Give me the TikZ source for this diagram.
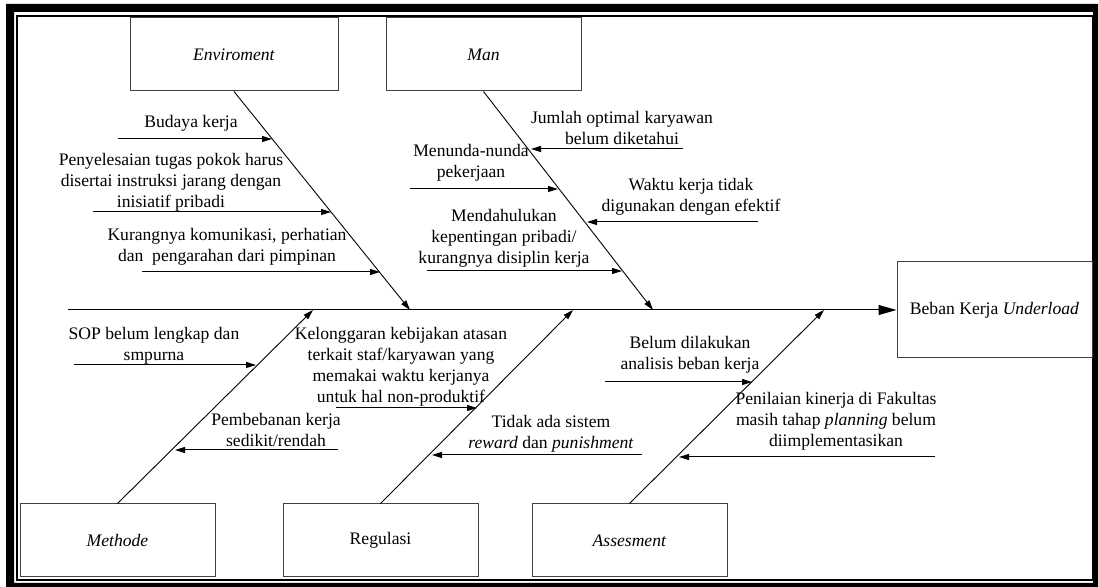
\documentclass[tikz,border=0pt]{standalone}
\usepackage{fontspec}
\setmainfont{Liberation Serif}
\usetikzlibrary{arrows.meta,positioning}
\tikzset{
  >={Triangle[length=5pt,width=3pt]},
  every node/.style={font=\fontsize{8.8}{10.5}\selectfont,text=black},
  catbox/.style={draw=black!75,line width=0.5pt,minimum width=97.5pt,minimum height=36.5pt,inner sep=0pt},
  effectbox/.style={catbox,minimum height=48pt},
  cause/.style={align=center,inner sep=0pt},
  bone/.style={->,line width=0.45pt},
  spine/.style={-{Triangle[length=9pt,width=5pt]},line width=0.5pt},
  causearr/.style={->,line width=0.5pt}
}
\begin{document}
\begin{tikzpicture}[x=0.5pt,y=-0.5pt]
  \useasboundingbox (0,0) rectangle (1099,587);
  % page frame
  \fill[black,even odd rule] (6,4) rectangle (1098,587) (14,12) rectangle (1093,583);
  \draw[line width=0.8pt] (17,16) rectangle (1093,580);

  % categories and effect
  \node[catbox,minimum width=104pt] (env) at (234,54.5) {\textit{Enviroment}};
  \node[catbox] (man) at (483.5,54.5) {\textit{Man}};
  \node[catbox] (methode) at (117.5,540.5) {\textit{Methode}};
  \node[catbox] (regulasi) at (380.5,540.5) {Regulasi};
  \node[catbox] (assess) at (629.5,540.5) {\textit{Assesment}};
  \node[effectbox] (effect) at (994.5,310) {Beban Kerja \textit{Underload}};

  % spine and bones
  \coordinate (tail) at (68,310);
  \coordinate (envtip) at (410,310);
  \coordinate (mantip) at (653,310);
  \coordinate (methodetip) at (313,310);
  \coordinate (regulasitip) at (573,310);
  \coordinate (assesstip) at (824,310);
  \draw[spine] (tail) -- (effect.west);
  \draw[bone] (env.south) -- (envtip);
  \draw[bone] (man.south) -- (mantip);
  \draw[bone] (methode.north) -- (methodetip);
  \draw[bone] (regulasi.north) -- (regulasitip);
  \draw[bone] (assess.north) -- (assesstip);

  % Enviroment
  \node[cause] (budaya) at (191,123) {Budaya kerja};
  \node[cause] (tugas) at (171,182) {Penyelesaian tugas pokok harus\\disertai instruksi jarang dengan\\inisiatif pribadi};
  \node[cause] (komunikasi) at (227,246.5) {Kurangnya komunikasi, perhatian\\dan~ pengarahan dari pimpinan};
  \coordinate (budaya-s) at (118,139);   \coordinate (budaya-e) at (272,139);
  \coordinate (tugas-s) at (93,212);     \coordinate (tugas-e) at (331,212);
  \coordinate (komunikasi-s) at (142,272); \coordinate (komunikasi-e) at (380,272);
  \draw[causearr] (budaya-s) -- (budaya-e);
  \draw[causearr] (tugas-s) -- (tugas-e);
  \draw[causearr] (komunikasi-s) -- (komunikasi-e);

  % Man
  \node[cause] (jumlah) at (622,128) {Jumlah optimal karyawan\\belum diketahui};
  \node[cause] (menunda) at (471,163) {Menunda-nunda\\pekerjaan};
  \node[cause] (waktu) at (691,197) {Waktu kerja tidak\\digunakan dengan efektif};
  \node[cause] (pribadi) at (504,238) {Mendahulukan\\kepentingan pribadi/\\kurangnya disiplin kerja};
  \coordinate (jumlah-s) at (683,149);  \coordinate (jumlah-e) at (531,149);
  \coordinate (menunda-s) at (410,189); \coordinate (menunda-e) at (558,189);
  \coordinate (waktu-s) at (758,222);   \coordinate (waktu-e) at (587,222);
  \coordinate (pribadi-s) at (427,271); \coordinate (pribadi-e) at (622,271);
  \draw[causearr] (jumlah-s) -- (jumlah-e);
  \draw[causearr] (menunda-s) -- (menunda-e);
  \draw[causearr] (waktu-s) -- (waktu-e);
  \draw[causearr] (pribadi-s) -- (pribadi-e);

  % Methode
  \node[cause] (sop) at (154,345.5) {SOP belum lengkap dan\\smpurna};
  \node[cause] (beban) at (276,429.5) {Pembebanan kerja\\sedikit/rendah};
  \coordinate (sop-s) at (74,365);   \coordinate (sop-e) at (256,365);
  \coordinate (beban-s) at (338,450); \coordinate (beban-e) at (175,450);
  \draw[causearr] (sop-s) -- (sop-e);
  \draw[causearr] (beban-s) -- (beban-e);

  % Regulasi
  \node[cause] (longgar) at (401,366.5) {Kelonggaran kebijakan atasan\\terkait staf/karyawan yang\\memakai waktu kerjanya\\untuk hal non-produktif};
  \node[cause] (reward) at (551,433.5) {Tidak ada sistem\\\textit{reward} dan \textit{punishment}};
  \coordinate (longgar-s) at (336,408); \coordinate (longgar-e) at (477,408);
  \coordinate (reward-s) at (642,455);  \coordinate (reward-e) at (432,455);
  \draw[causearr] (longgar-s) -- (longgar-e);
  \draw[causearr] (reward-s) -- (reward-e);

  % Assesment
  \node[cause] (analisis) at (690,354.5) {Belum dilakukan\\analisis beban kerja};
  \node[cause] (kinerja) at (836,421) {Penilaian kinerja di Fakultas\\masih tahap \textit{planning} belum\\diimplementasikan};
  \coordinate (analisis-s) at (605,382); \coordinate (analisis-e) at (752,382);
  \coordinate (kinerja-s) at (935,457);  \coordinate (kinerja-e) at (679,457);
  \draw[causearr] (analisis-s) -- (analisis-e);
  \draw[causearr] (kinerja-s) -- (kinerja-e);
\end{tikzpicture}
\end{document}
